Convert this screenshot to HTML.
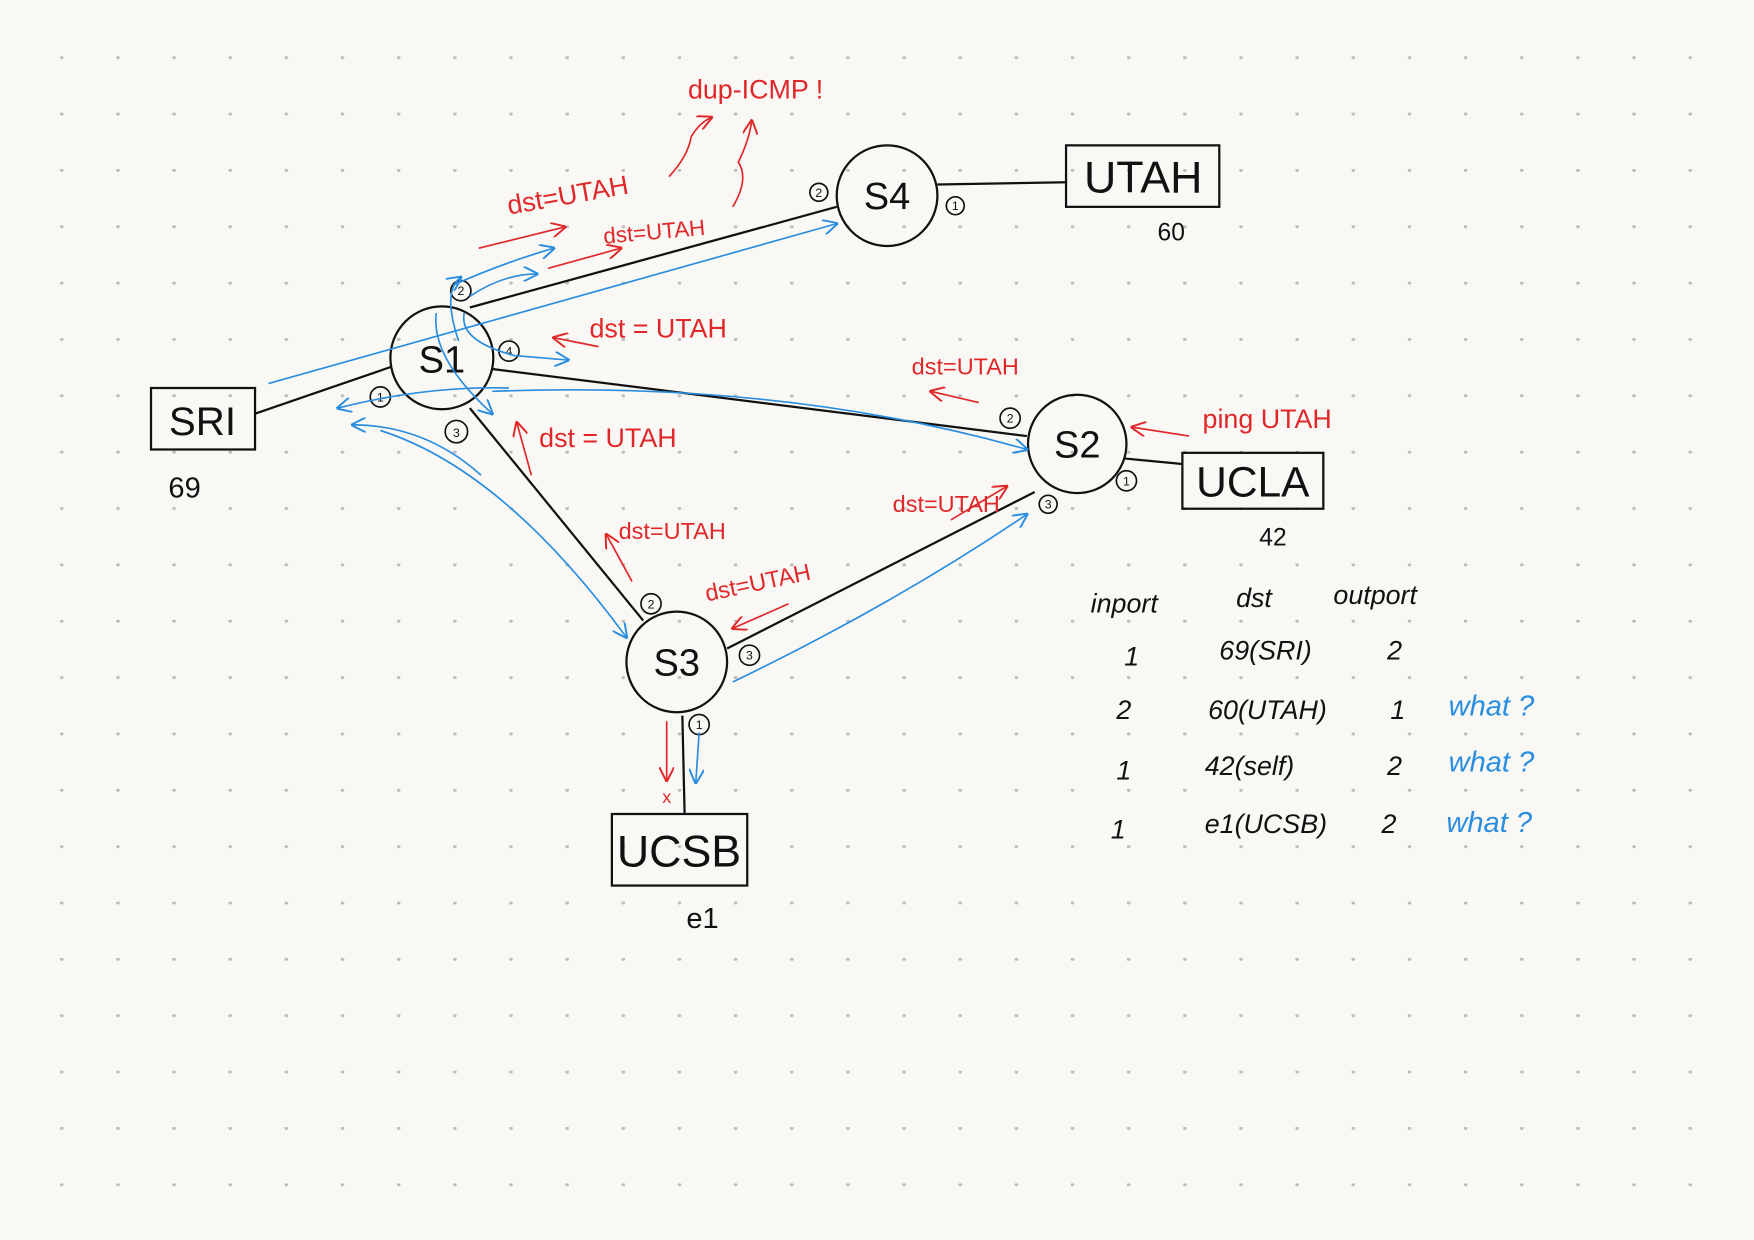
<!DOCTYPE html>
<html><head><meta charset="utf-8"><style>
html,body{margin:0;padding:0;background:#faf8f4;}
svg{display:block}
text{font-family:"Liberation Sans",sans-serif;}
</style></head><body>
<svg width="1754" height="1240" viewBox="0 0 1568 1109" preserveAspectRatio="none" xmlns="http://www.w3.org/2000/svg">
<defs>
<pattern id="d" x="0" y="0" width="50.2" height="50.4" patternUnits="userSpaceOnUse">
<circle cx="5" cy="1" r="1.6" fill="#bdbbb8"/>
</pattern>
<marker id="ar" viewBox="0 0 10 10" refX="9" refY="5" markerWidth="9" markerHeight="9" orient="auto"><path d="M0,0 L10,5 L0,10" fill="none" stroke="#e0282a" stroke-width="1.3"/></marker>
<marker id="ab" viewBox="0 0 10 10" refX="9" refY="5" markerWidth="9" markerHeight="9" orient="auto"><path d="M0,0 L10,5 L0,10" fill="none" stroke="#2a8ee0" stroke-width="1.3"/></marker>
</defs>
<rect width="1568" height="1109" fill="#faf8f4"/>
<rect x="50" y="49" width="1480" height="1020" fill="url(#d)"/>
<g stroke="#111" stroke-width="2" fill="none">
<line x1="228" y1="370" x2="350" y2="328"/>
<line x1="420" y1="275" x2="748" y2="185"/>
<line x1="838" y1="165" x2="953" y2="163"/>
<line x1="440" y1="330" x2="918" y2="390"/>
<line x1="1005" y1="410" x2="1057" y2="415"/>
<line x1="420" y1="365" x2="575" y2="555"/>
<line x1="650" y1="580" x2="925" y2="440"/>
<line x1="610" y1="640" x2="612" y2="728"/>
<circle cx="395" cy="320" r="46"/>
<circle cx="793" cy="175" r="45"/>
<circle cx="963" cy="397" r="44"/>
<circle cx="605" cy="592" r="45"/>
<rect x="135" y="347" width="93" height="55"/>
<rect x="953" y="130" width="137" height="55"/>
<rect x="1057" y="405" width="126" height="50"/>
<rect x="547" y="728" width="121" height="64"/>
</g>
<g stroke="#111" stroke-width="1.5" fill="#faf8f4">
<circle cx="412" cy="260" r="9"/><circle cx="455" cy="314" r="9"/><circle cx="340" cy="355" r="9"/><circle cx="408" cy="386" r="10"/>
<circle cx="732" cy="172" r="8"/><circle cx="854" cy="184" r="8"/>
<circle cx="903" cy="374" r="9"/><circle cx="1007" cy="430" r="9"/><circle cx="937" cy="451" r="8"/>
<circle cx="582" cy="540" r="9"/><circle cx="670" cy="586" r="9"/><circle cx="625" cy="648" r="9"/>
</g>
<g font-size="11" fill="#111" text-anchor="middle">
<text x="412" y="264">2</text><text x="455" y="318">4</text><text x="340" y="359">1</text><text x="408" y="391">3</text>
<text x="732" y="176">2</text><text x="854" y="188">1</text><text x="903" y="378">2</text><text x="1007" y="434">1</text><text x="937" y="455">3</text>
<text x="582" y="544">2</text><text x="670" y="590">3</text><text x="625" y="652">1</text>
</g>
<g fill="#111" font-size="34" text-anchor="middle">
<text x="395" y="333">S1</text><text x="793" y="187">S4</text><text x="963" y="409">S2</text><text x="605" y="604">S3</text>
<text x="181" y="389" font-size="36">SRI</text><text x="1022" y="172" font-size="40">UTAH</text>
<text x="1120" y="444" font-size="38">UCLA</text><text x="607" y="775" font-size="40">UCSB</text>
<text x="165" y="445" font-size="26">69</text><text x="1047" y="215" font-size="22">60</text>
<text x="1138" y="488" font-size="22">42</text><text x="628" y="830" font-size="26">e1</text>
</g>
<g fill="#111" font-size="24" font-style="italic">
<text x="975" y="548">inport</text><text x="1105" y="543">dst</text><text x="1192" y="540">outport</text>
<text x="1005" y="595">1</text><text x="1090" y="590">69(SRI)</text><text x="1240" y="590">2</text>
<text x="998" y="643">2</text><text x="1080" y="643">60(UTAH)</text><text x="1243" y="643">1</text>
<text x="998" y="697">1</text><text x="1077" y="693">42(self)</text><text x="1240" y="693">2</text>
<text x="993" y="750">1</text><text x="1077" y="745">e1(UCSB)</text><text x="1235" y="745">2</text>
</g>
<g fill="#2a8ee0" font-size="26" font-style="italic">
<text x="1295" y="640">what ?</text><text x="1295" y="690">what ?</text><text x="1293" y="744">what ?</text>
</g>
<g fill="#e0282a" font-size="24">
<text x="615" y="88">dup-ICMP !</text>
<text x="455" y="192" transform="rotate(-10 455 192)">dst=UTAH</text>
<text x="540" y="218" font-size="20" transform="rotate(-5 540 218)">dst=UTAH</text>
<text x="527" y="302">dst = UTAH</text>
<text x="815" y="335" font-size="21">dst=UTAH</text>
<text x="1075" y="383">ping UTAH</text>
<text x="482" y="400">dst = UTAH</text>
<text x="798" y="458" font-size="21">dst=UTAH</text>
<text x="553" y="482" font-size="21">dst=UTAH</text>
<text x="632" y="538" font-size="21" transform="rotate(-12 632 538)">dst=UTAH</text>
<text x="592" y="718" font-size="16">x</text>
</g>
<g stroke="#e0282a" stroke-width="1.5" fill="none" marker-end="url(#ar)">
<path d="M598,158 Q615,140 618,122 Q625,110 636,105"/>
<path d="M655,185 Q670,160 660,145 Q670,125 672,108"/>
<path d="M428,222 L505,203"/>
<path d="M490,240 L555,222"/>
<path d="M535,310 L495,302"/>
<path d="M875,360 L832,350"/>
<path d="M1063,390 L1012,382"/>
<path d="M475,425 L462,378"/>
<path d="M850,465 L900,435"/>
<path d="M565,520 L542,478"/>
<path d="M705,540 L655,562"/>
<path d="M596,645 L596,698"/>
</g>
<g stroke="#2a8ee0" stroke-width="1.5" fill="none" marker-end="url(#ab)">
<path d="M240,343 Q500,270 748,200"/>
<path d="M405,255 Q450,235 495,222"/>
<path d="M420,265 Q450,245 480,245"/>
<path d="M410,305 Q395,260 412,248"/>
<path d="M415,280 Q410,305 460,318 L508,322"/>
<path d="M390,280 Q385,320 440,370"/>
<path d="M440,350 Q700,340 918,402"/>
<path d="M455,347 Q380,345 302,365"/>
<path d="M430,425 Q380,380 315,380"/>
<path d="M340,385 Q450,420 560,570"/>
<path d="M655,610 Q800,540 918,460"/>
<path d="M625,655 L622,700"/>
</g>
</svg>
</body></html>
